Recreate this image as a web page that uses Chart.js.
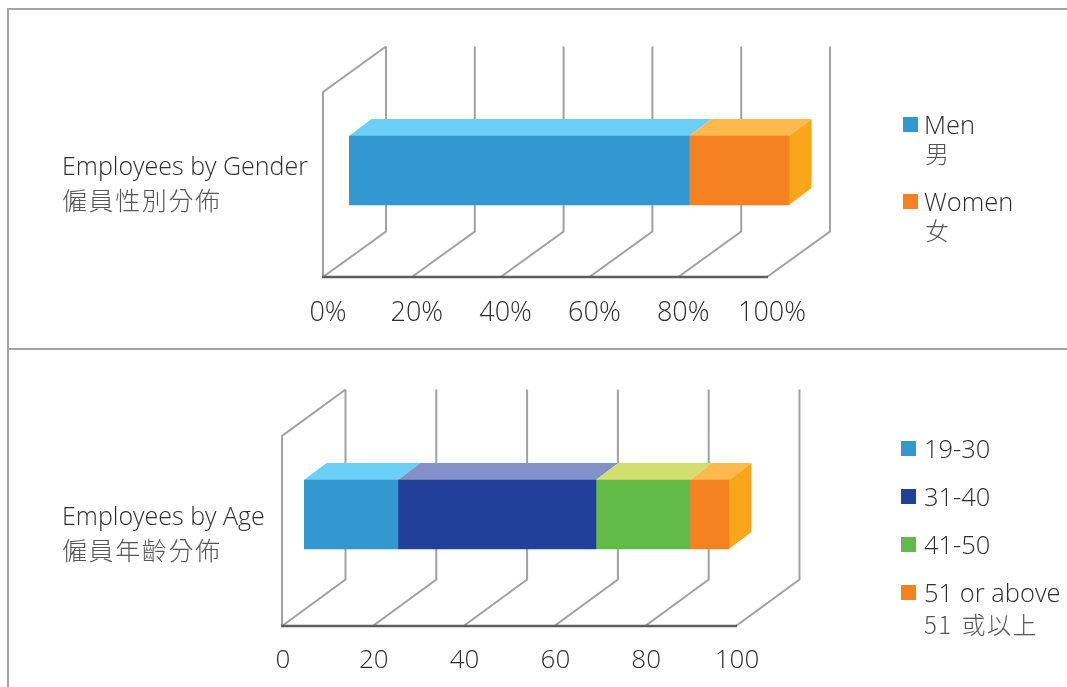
<!DOCTYPE html>
<html>
<head>
<meta charset="utf-8">
<script src="https://cdn.jsdelivr.net/npm/chart.js@4"></script>
<style>
    html, body { margin: 0; padding: 0; background: #fff; }
    body { position: relative; width: 1067px; height: 687px; overflow: hidden; font-family: "Open Sans", "Noto Sans CJK TC", sans-serif; font-weight: 300; color: #2e2e2e; }
    .frame { position: absolute; background: #a3a4a6; }
    canvas { position: absolute; left: 0; }
    .title { position: absolute; left: 62px; font-size: 25px; line-height: 35px; white-space: nowrap; }
    .title .zh, .legend .zh { font-family: "Noto Sans CJK TC", sans-serif; font-weight: 300; color: #555; }
    .title .zh { letter-spacing: 1.6px; margin-top: -1px; }
    .legend { position: absolute; font-size: 25.5px; line-height: 29px; white-space: nowrap; }
    .legend .item { position: relative; margin-bottom: 19px; }
    .legend .box { position: absolute; width: 15px; height: 15px; top: 7px; }
    .legend .txt { display: block; }
    .legend .zh { font-size: 24px; letter-spacing: 1.5px; word-spacing: 2px; }
    #legend-gender .zh { margin-top: -1px; }
    #legend-gender .item { margin-bottom: 20px; }
    #legend-age .zh { margin-top: 2px; }
</style>
</head>
<body>
<div class="frame" style="left:7px;top:8px;width:2px;height:679px"></div>
<div class="frame" style="left:7px;top:8px;width:1060px;height:2px"></div>
<div class="frame" style="left:7px;top:348px;width:1060px;height:2px"></div>

<canvas id="chart-gender" width="1067" height="349" style="top:0"></canvas>
<canvas id="chart-age" width="1067" height="338" style="top:349px"></canvas>

<div class="title" id="title-gender" style="top:148px"></div>
<div class="title" id="title-age" style="top:498px"></div>
<div class="legend" id="legend-gender" style="left:903px;top:110px"></div>
<div class="legend" id="legend-age" style="left:901px;top:434px"></div>

<script>
const genderTitle = ['Employees by Gender', '僱員性別分佈']
const genderLabels = [['Men', '男'], ['Women', '女']]
const genderValues = [76.6, 22.5]
const genderTicks = [0, 20, 40, 60, 80, 100]

const ageTitle = ['Employees by Age', '僱員年齡分佈']
const ageLabels = [['19-30'], ['31-40'], ['41-50'], ['51 or above', '51 或以上']]
const ageValues = [20.7, 43.6, 20.7, 8.6]
const ageTicks = [0, 20, 40, 60, 80, 100]

// front, top and side faces of each stacked block
const genderColors = [
    { front: '#3398cf', top: '#6bcff6', side: '#2b86b8' },
    { front: '#f58220', top: '#fdb94d', side: '#faa61a' }
]
const ageColors = [
    { front: '#3398cf', top: '#6bcff6', side: '#2b86b8' },
    { front: '#21409a', top: '#8490c8', side: '#1b3580' },
    { front: '#62bb46', top: '#d2df6f', side: '#4fa338' },
    { front: '#f58220', top: '#fdb94d', side: '#faa61a' }
]

// box around the bars: walls, floor and the depth of the bar itself
const box3d = {
    id: 'box3d',
    beforeDatasetsDraw(chart, args, opts) {
        const ctx = chart.ctx
        const scale = chart.scales.x
        const floorY = chart.chartArea.bottom
        const frontX = v => scale.getPixelForValue(v) - opts.shift
        ctx.save()
        ctx.lineWidth = 2
        ctx.strokeStyle = '#a0a1a4'
        ctx.beginPath()
        opts.ticks.forEach(function (v) {
            let fx = frontX(v)
            ctx.moveTo(fx, floorY)
            ctx.lineTo(fx + opts.wallDx, floorY - opts.wallDy)
            ctx.lineTo(fx + opts.wallDx, floorY - opts.wallDy - opts.wallHeight)
        })
        let fx0 = frontX(opts.ticks[0])
        ctx.moveTo(fx0, floorY)
        ctx.lineTo(fx0, floorY - opts.wallHeight)
        ctx.lineTo(fx0 + opts.wallDx, floorY - opts.wallDy - opts.wallHeight)
        ctx.stroke()

        ctx.strokeStyle = '#5d5e61'
        ctx.lineWidth = 2.5
        ctx.beginPath()
        ctx.moveTo(fx0 - 1, floorY)
        ctx.lineTo(frontX(opts.ticks[opts.ticks.length - 1]) + 1, floorY)
        ctx.stroke()

        // top faces, then the end cap of the last block
        let last = chart.data.datasets.length - 1
        chart.data.datasets.forEach(function (ds, i) {
            let bar = chart.getDatasetMeta(i).data[0]
            let top = bar.y - bar.height / 2
            ctx.fillStyle = opts.colors[i].top
            ctx.beginPath()
            ctx.moveTo(bar.base, top)
            ctx.lineTo(bar.x, top)
            ctx.lineTo(bar.x + opts.barDx, top - opts.barDy)
            ctx.lineTo(bar.base + opts.barDx, top - opts.barDy)
            ctx.closePath()
            ctx.fill()
            if (i === last) {
                ctx.fillStyle = opts.colors[i].side
                ctx.beginPath()
                ctx.moveTo(bar.x, top)
                ctx.lineTo(bar.x + opts.barDx, top - opts.barDy)
                ctx.lineTo(bar.x + opts.barDx, top - opts.barDy + bar.height)
                ctx.lineTo(bar.x, top + bar.height)
                ctx.closePath()
                ctx.fill()
            }
        })
        ctx.restore()
    }
}

function makeChart(id, title, labels, values, colors, ticks, layout) {
    let canvas = document.getElementById(id)
    return new Chart(canvas.getContext('2d'), {
        type: 'bar',
        data: {
            labels: [title[0]],
            datasets: labels.map(function (label, i) {
                return {
                    label: label.join(' '),
                    data: [values[i]],
                    backgroundColor: colors[i].front,
                    borderWidth: 0,
                    barThickness: 69
                }
            })
        },
        options: {
            indexAxis: 'y',
            responsive: false,
            animation: false,
            layout: { padding: layout.padding },
            scales: {
                x: {
                    stacked: true,
                    min: 0,
                    max: 100,
                    afterFit: function (scale) { scale.height = layout.axisHeight },
                    grid: { display: false },
                    border: { display: false },
                    ticks: {
                        stepSize: 20,
                        maxRotation: 0,
                        autoSkip: false,
                        padding: layout.tickPadding,
                        labelOffset: layout.labelOffset,
                        color: '#2e2e2e',
                        font: { family: 'Open Sans', size: layout.tickSize, weight: 300 },
                        callback: layout.tickFormat
                    }
                },
                y: { stacked: true, display: false }
            },
            plugins: {
                legend: { display: false },
                tooltip: { enabled: false },
                box3d: {
                    ticks: ticks,
                    colors: colors,
                    shift: layout.shift,
                    wallDx: layout.wallDx,
                    wallDy: layout.wallDy,
                    wallHeight: layout.wallHeight,
                    barDx: 22.5,
                    barDy: 17
                }
            }
        },
        plugins: [box3d]
    })
}

function fillTitle(id, title) {
    document.getElementById(id).innerHTML = '<div>' + title[0] + '</div><div class="zh">' + title[1] + '</div>'
}

function fillLegend(id, labels, colors) {
    let html = ''
    labels.forEach(function (label, i) {
        html += '<div class="item"><span class="box" style="background:' + colors[i].front + '"></span>'
        html += '<span class="txt" style="padding-left:' + (id === 'legend-age' ? 23 : 21) + 'px">' + label[0] + '</span>'
        if (label[1]) {
            html += '<span class="txt zh" style="padding-left:' + (id === 'legend-age' ? 23 : 22) + 'px">' + label[1] + '</span>'
        }
        html += '</div>'
    })
    document.getElementById(id).innerHTML = html
}

makeChart('chart-gender', genderTitle, genderLabels, genderValues, genderColors, genderTicks, {
    padding: { left: 349, right: 274, top: 64, bottom: 0 },
    axisHeight: 72,
    tickPadding: 12,
    labelOffset: -21,
    tickSize: 27,
    shift: 26,
    wallDx: 63,
    wallDy: 45.5,
    wallHeight: 185,
    tickFormat: function (v) { return v + '%' }
})

makeChart('chart-age', ageTitle, ageLabels, ageValues, ageColors, ageTicks, {
    padding: { left: 304, right: 309, top: 54, bottom: 0 },
    axisHeight: 61,
    tickPadding: 11,
    labelOffset: -21,
    tickSize: 26,
    shift: 22,
    wallDx: 63.5,
    wallDy: 46.5,
    wallHeight: 190,
    tickFormat: function (v) { return v }
})

fillTitle('title-gender', genderTitle)
fillTitle('title-age', ageTitle)
fillLegend('legend-gender', genderLabels, genderColors)
fillLegend('legend-age', ageLabels, ageColors)
</script>
</body>
</html>
